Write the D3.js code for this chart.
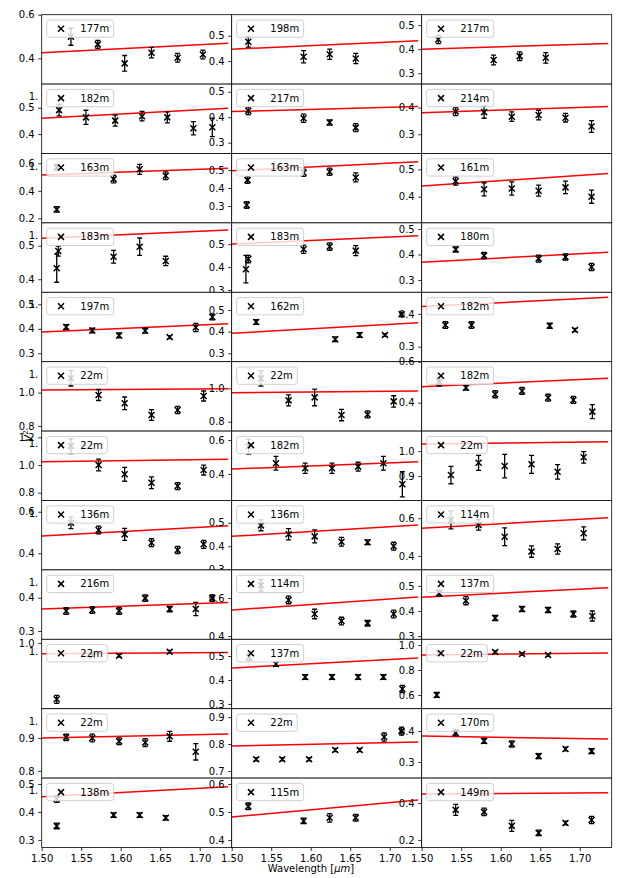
<!DOCTYPE html>
<html><head><meta charset="utf-8">
<script src="https://cdn.jsdelivr.net/npm/d3@7"></script>
<style>body{margin:0;background:#fff} text{font-family:"DejaVu Sans",sans-serif}</style>
</head><body><svg id="c" width="623" height="878"></svg>
<script>
const labels = ["177m","198m","217m","182m","217m","214m","163m","163m","161m","183m","183m","180m",
"197m","162m","182m","22m","22m","182m","22m","182m","22m","136m","136m","114m",
"216m","114m","137m","22m","137m","22m","22m","22m","170m","138m","115m","149m"];
const yLimits = [[0.282,0.6],[0.309,0.583],[0.255,0.543],[0.326,0.590],[0.2575,0.530],[0.228,0.488],
[0.167,0.671],[0.206,0.592],[0.304,0.558],[0.361,0.568],[0.290,0.593],[0.252,0.524],
[0.2654,0.549],[0.261,0.5816],[0.254,0.466],[0.769,1.186],[0.744,1.16],[0.261,0.6],
[0.744,1.245],[0.244,0.652],[0.802,1.08],[0.320,0.654],[0.299,0.595],[0.326,0.694],
[0.275,0.484],[0.383,0.748],[0.287,0.564],[0.51,1.028],[0.28,0.57],[0.49,1.046],
[0.778,0.989],[0.674,0.931],[0.248,0.472],[0.273,0.521],[0.373,0.621],[0.159,0.535]];
const yTicks = [[0.4,0.6],[0.4,0.5],[0.3,0.4,0.5],[0.4,0.5],[0.3,0.4,0.5],[0.3,0.4],
[0.2,0.4,0.6],[0.3,0.4,0.5],[0.4,0.5],[0.4,0.5],[0.3,0.4,0.5],[0.3,0.4,0.5],
[0.3,0.4,0.5],[0.3,0.4,0.5],[0.3,0.4],[0.8,1.0],[0.8,1.0],[0.4,0.6],
[0.8,1.0,1.2],[0.4,0.6],[0.9,1.0],[0.4,0.6],[0.3,0.4,0.5],[0.4,0.6],
[0.3,0.4],[0.4,0.6],[0.3,0.4,0.5],[1.0],[0.3,0.4,0.5],[0.6,0.8,1.0],
[0.8,0.9],[0.7,0.8,0.9],[0.3,0.4],[0.3,0.4,0.5],[0.4,0.5,0.6],[0.2,0.4]];
const wavelengths = [
[1.537,1.571,1.605,1.639,1.672,1.704],[1.521,1.591,1.624,1.657],[1.521,1.591,1.624,1.657],
[1.522,1.556,1.593,1.627,1.659,1.692,1.716],[1.521,1.591,1.624,1.657],[1.543,1.579,1.614,1.648,1.682,1.715],
[1.519,1.519,1.591,1.624,1.657],[1.520,1.519,1.591,1.624,1.657],[1.543,1.579,1.614,1.648,1.682,1.715],
[1.521,1.519,1.591,1.624,1.657],[1.518,1.521,1.591,1.624,1.657],[1.543,1.579,1.648,1.682,1.715],
[1.531,1.564,1.598,1.631,1.662,1.695,1.716],[1.531,1.631,1.662,1.694,1.715],[1.530,1.563,1.662,1.694],
[1.537,1.572,1.605,1.639,1.672,1.705],[1.537,1.572,1.605,1.639,1.672,1.705],[1.522,1.556,1.593,1.627,1.660,1.692,1.716],
[1.537,1.572,1.605,1.639,1.672,1.705],[1.5215,1.556,1.593,1.627,1.660,1.692,1.716],[1.537,1.572,1.605,1.639,1.672,1.705],
[1.537,1.572,1.605,1.639,1.672,1.705],[1.537,1.572,1.605,1.639,1.672,1.705],[1.537,1.572,1.605,1.639,1.672,1.705],
[1.531,1.564,1.598,1.631,1.662,1.695,1.716],[1.537,1.572,1.605,1.639,1.672,1.705],[1.522,1.556,1.593,1.627,1.660,1.692,1.716],
[1.519,1.564,1.598,1.662],[1.522,1.556,1.593,1.627,1.660,1.692,1.716],[1.519,1.522,1.593,1.627,1.660],
[1.531,1.564,1.598,1.631,1.662,1.695],[1.531,1.564,1.598,1.631,1.662,1.693,1.715],[1.543,1.579,1.614,1.648,1.682,1.715],
[1.519,1.519,1.591,1.624,1.657],[1.521,1.591,1.624,1.657],[1.543,1.579,1.614,1.648,1.682,1.715]];
const visibilities = [
[0.499,0.464,0.377,0.426,0.403,0.418],[0.476,0.417,0.427,0.41],[0.44,0.355,0.371,0.364],
[0.491,0.4635,0.451,0.468,0.4635,0.422,0.4255],[0.425,0.396,0.379,0.359],[0.385,0.383,0.366,0.372,0.362,0.329],
[0.265,0.571,0.485,0.556,0.509],[0.444,0.3056,0.485,0.4906,0.459],[0.457,0.427,0.430,0.422,0.434,0.400],
[0.484,0.433,0.467,0.497,0.4545],[0.391,0.435,0.478,0.4896,0.472],[0.4196,0.396,0.384,0.3906,0.351],
[0.407,0.393,0.3726,0.392,0.366,0.4054,0.448],[0.444,0.3645,0.384,0.384,0.48],[0.366,0.366,0.364,0.351],
[1.086,0.986,0.936,0.866,0.896,0.980],[1.06,0.928,0.946,0.84,0.844,0.922],[0.5024,0.473,0.441,0.457,0.424,0.413,0.356],
[1.137,1.0,0.933,0.872,0.848,0.964],[0.561,0.463,0.4335,0.4335,0.443,0.463,0.339],[0.904,0.953,0.94,0.947,0.917,0.975],
[0.547,0.512,0.491,0.451,0.416,0.443],[0.489,0.451,0.442,0.419,0.417,0.40],[0.591,0.5645,0.502,0.423,0.437,0.520],
[0.36,0.363,0.36,0.399,0.366,0.366,0.399],[0.667,0.59,0.516,0.479,0.468,0.516],[0.471,0.441,0.372,0.408,0.404,0.388,0.38],
[0.58,0.905,0.905,0.935],[0.496,0.467,0.4125,0.4125,0.4125,0.4125,0.3625],[0.6,0.936,0.944,0.928,0.92],
[0.902,0.9,0.89,0.886,0.905,0.858],[0.744,0.744,0.744,0.778,0.778,0.826,0.848],[0.394,0.368,0.358,0.319,0.342,0.335],
[0.446,0.35,0.389,0.389,0.379],[0.52,0.468,0.479,0.479],[0.363,0.352,0.276,0.238,0.292,0.308]];
const errors = [
[0.039,0.018,0.036,0.024,0.02,0.02],[0.021,0.024,0.02,0.02],[0.017,0.02,0.018,0.022],
[0.022,0.027,0.021,0.018,0.021,0.025,0.035],[0.015,0.016,0.01,0.016],[0.015,0.023,0.018,0.018,0.016,0.022],
[0.02,0.02,0.028,0.036,0.028],[0.018,0.018,0.02,0.02,0.025],[0.015,0.024,0.024,0.02,0.023,0.024],
[0.015,0.042,0.019,0.026,0.014],[0.06,0.016,0.018,0.016,0.022],[0.01,0.012,0.014,0.012,0.014],
[0.01,0.01,0.01,0.01,0.006,0.017,0.012],[0.011,0.011,0.011,0.006,0.01],[0.01,0.01,0.008,0.005],
[0.046,0.033,0.038,0.032,0.022,0.03],[0.046,0.033,0.05,0.034,0.021,0.034],[0.021,0.012,0.017,0.017,0.017,0.017,0.034],
[0.054,0.042,0.05,0.042,0.025,0.036],[0.044,0.04,0.03,0.03,0.026,0.04,0.074],[0.035,0.03,0.047,0.036,0.029,0.023],
[0.028,0.019,0.029,0.019,0.017,0.019],[0.023,0.024,0.028,0.019,0.01,0.017],[0.047,0.028,0.047,0.03,0.027,0.034],
[0.01,0.01,0.01,0.01,0.008,0.02,0.01],[0.03,0.02,0.025,0.02,0.015,0.02],[0.012,0.016,0.01,0.01,0.01,0.012,0.02],
[0.03,0.01,0.01,0.01],[0.015,0.01,0.01,0.01,0.01,0.01,0.015],[0.02,0.01,0.01,0.01,0.01],
[0.01,0.012,0.01,0.012,0.015,0.025],[0.006,0.006,0.006,0.006,0.006,0.015,0.015],[0.01,0.008,0.01,0.008,0.006,0.008],
[0.012,0.01,0.008,0.008,0.008],[0.012,0.01,0.015,0.012],[0.03,0.02,0.03,0.015,0.01,0.02]];
const fitWavelengths = [1.50, 1.736];
const fitValues = [[0.426,0.469],[0.447,0.480],[0.400,0.424],[0.460,0.498],[0.422,0.442],[0.381,0.404],
[0.514,0.564],[0.496,0.546],[0.439,0.485],[0.522,0.547],[0.501,0.537],[0.370,0.409],
[0.3864,0.4206],[0.392,0.4415],[0.4224,0.451],[1.016,1.024],[0.974,0.984],[0.478,0.519],
[1.024,1.041],[0.429,0.472],[1.028,1.037],[0.483,0.533],[0.442,0.490],[0.547,0.603],
[0.366,0.386],[0.537,0.605],[0.455,0.493],[0.92,0.93],[0.45,0.492],[0.92,0.936],
[0.9,0.912],[0.793,0.808],[0.384,0.374],[0.454,0.49],[0.482,0.543],[0.449,0.455]];
const xTicks = [1.50,1.55,1.60,1.65,1.70];
const xDomain = [1.50, 1.7405];

const svg = d3.select("#c");
const L = 41.7, W = 190, T0 = 14.7, H = 69.4, NR = 12, NC = 3;
const x = d3.scaleLinear().domain(xDomain).range([0, W]);

labels.forEach((lab, i) => {
  const r = Math.floor(i / NC), c = i % NC;
  const gx = L + c * W, gy = T0 + r * H;
  const y = d3.scaleLinear().domain(yLimits[i]).range([H, 0]);
  const g = svg.append("g").attr("transform", `translate(${gx},${gy})`);
  g.append("rect").attr("width", W).attr("height", H).attr("fill", "#fff");
  const cid = "clip" + i;
  g.append("clipPath").attr("id", cid).append("rect").attr("width", W).attr("height", H);
  const pg = g.append("g").attr("clip-path", `url(#${cid})`);
  const line = d3.line().x(d => x(d[0])).y(d => y(d[1]));
  pg.append("path").datum(fitWavelengths.map((w, k) => [w, fitValues[i][k]]))
    .attr("d", line).attr("fill", "none").attr("stroke", "#ff0000").attr("stroke-width", 1.5);
  const pts = wavelengths[i].map((w, k) => ({w, v: visibilities[i][k], e: errors[i][k]}));
  const pt = pg.selectAll("g.pt").data(pts).join("g").attr("class", "pt")
    .attr("transform", d => `translate(${x(d.w)},0)`).attr("stroke", "#000").attr("stroke-width", 1.3);
  pt.append("line").attr("y1", d => y(d.v - d.e)).attr("y2", d => y(d.v + d.e));
  pt.append("line").attr("x1", -2.5).attr("x2", 2.5).attr("y1", d => y(d.v - d.e)).attr("y2", d => y(d.v - d.e));
  pt.append("line").attr("x1", -2.5).attr("x2", 2.5).attr("y1", d => y(d.v + d.e)).attr("y2", d => y(d.v + d.e));
  pt.append("path").attr("d", d => { const yy = y(d.v); return `M-3,${yy-3}L3,${yy+3}M-3,${yy+3}L3,${yy-3}`; })
    .attr("stroke-width", 1.5);
  const lg = g.append("g").attr("transform", "translate(5,5.3)");
  const box = lg.append("rect").attr("height", 17.3).attr("rx", 2.5)
    .attr("fill", "#fff").attr("fill-opacity", 0.8).attr("stroke", "#d0d0d0").attr("stroke-width", 1);
  lg.append("path").attr("d", "M11.3,5.7L17.3,11.7M11.3,11.7L17.3,5.7").attr("stroke", "#000").attr("stroke-width", 1.5);
  const t = lg.append("text").attr("x", 33.6).attr("y", 12.3).attr("font-size", 10).attr("fill", "#000").text(lab);
  box.attr("width", 33.6 + t.node().getComputedTextLength() + 4.5);
  g.append("rect").attr("width", W).attr("height", H).attr("fill", "none").attr("stroke", "#000").attr("stroke-width", 0.8);
  const ya = g.append("g").call(d3.axisLeft(y).tickValues(yTicks[i]).tickSize(3.5).tickPadding(3.5).tickFormat(d3.format(".1f")));
  ya.select(".domain").remove();
  ya.selectAll("text").attr("font-size", 10).attr("font-family", "DejaVu Sans").attr("fill", "#000");
  ya.selectAll("line").attr("stroke-width", 0.8);
  if (c === 0 && r > 0) {
    g.append("text").attr("x", -3.4).attr("y", 16.1).attr("text-anchor", "end").attr("font-size", 10).text("1.");
  }
  if (r === NR - 1) {
    const xa = g.append("g").attr("transform", `translate(0,${H})`)
      .call(d3.axisBottom(x).tickValues(xTicks).tickSize(3.5).tickPadding(3.5).tickFormat(d3.format(".2f")));
    xa.select(".domain").remove();
    xa.selectAll("text").attr("font-size", 10).attr("font-family", "DejaVu Sans").attr("fill", "#000");
    xa.selectAll("line").attr("stroke-width", 0.8);
  }
});

const xl = svg.append("text").attr("x", 311).attr("y", 872).attr("text-anchor", "middle").attr("font-size", 10);
xl.append("tspan").text("Wavelength [");
xl.append("tspan").attr("font-style", "italic").text("μm");
xl.append("tspan").text("]");
const yl = svg.append("text").attr("transform", "translate(32,436) rotate(-90)").attr("text-anchor", "middle").attr("font-size", 10);
yl.append("tspan").attr("font-style", "italic").text("V");
yl.append("tspan").attr("font-size", 7).attr("dy", -4).text("2");
</script></body></html>
